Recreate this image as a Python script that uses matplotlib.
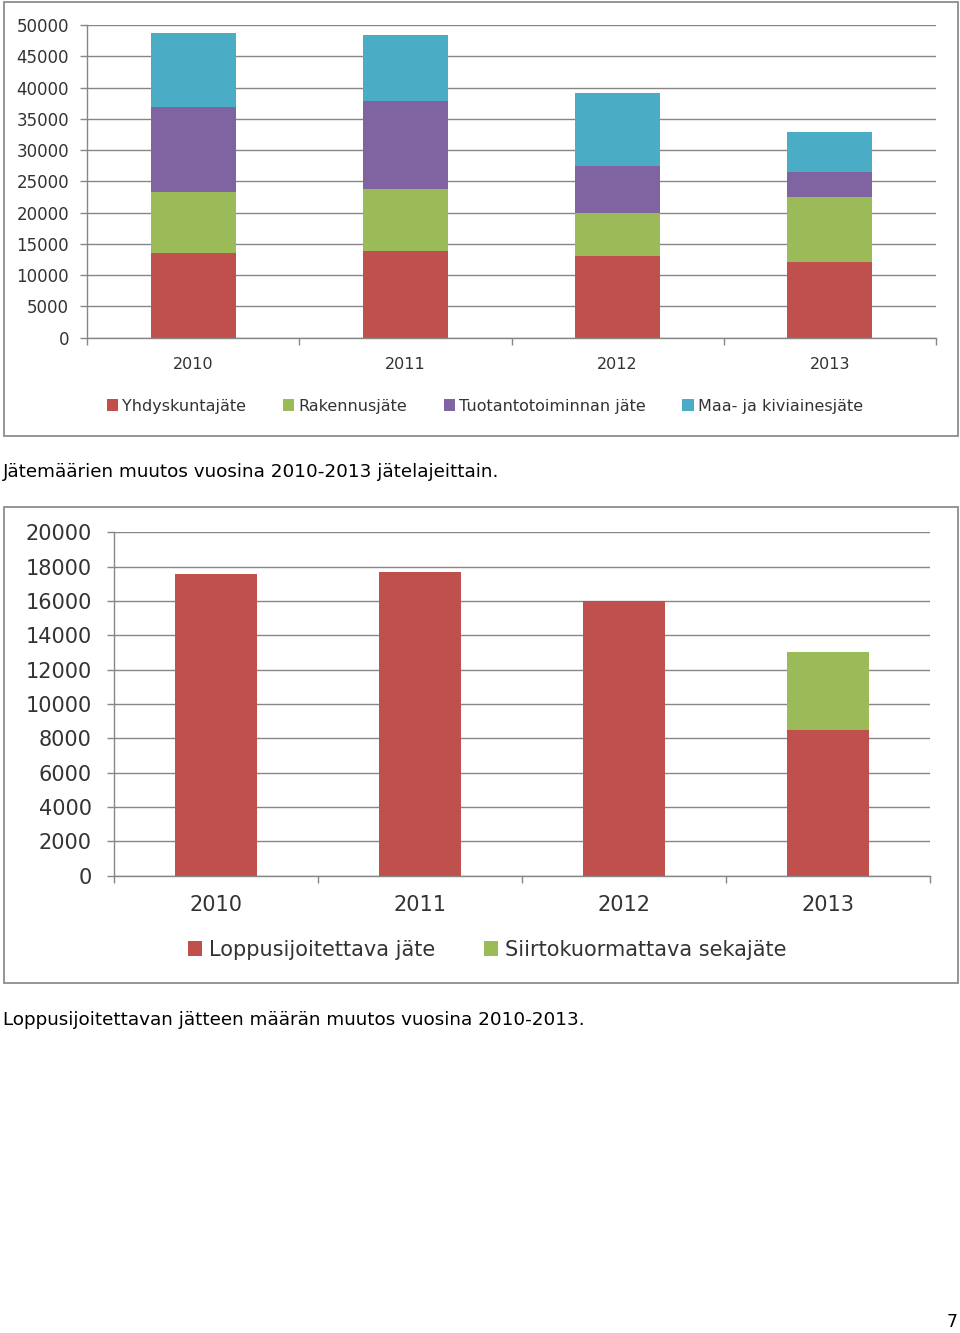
import numpy as np
import matplotlib.pyplot as plt
from matplotlib.patches import Rectangle

years = ["2010", "2011", "2012", "2013"]

# jätemäärät jätelajeittain
yhdyskuntajate = [13500, 13900, 13100, 12100]
rakennusjate = [9800, 9900, 6800, 10400]
tuotantojate = [13600, 14000, 7600, 4000]
maa_kivijate = [11900, 10600, 11700, 6400]
names_top = ["Yhdyskuntajäte", "Rakennusjäte", "Tuotantotoiminnan jäte", "Maa- ja kiviainesjäte"]

# loppusijoitettava jäte
loppusijoitus = [17550, 17700, 16000, 8500]
siirtokuormaus = [0, 0, 0, 4550]
names_bottom = ["Loppusijoitettava jäte", "Siirtokuormattava sekajäte"]

ticks_top = list(range(0, 50001, 5000))
ticks_bottom = list(range(0, 20001, 2000))

caption_top = "Jätemäärien muutos vuosina 2010-2013 jätelajeittain."
caption_bottom = "Loppusijoitettavan jätteen määrän muutos vuosina 2010-2013."

colors = ["#C0504D", "#9BBB59", "#8064A2", "#4BACC6"]
grid_c = "#868686"

W, H = 960, 1333
fig = plt.figure(figsize=(W / 100, H / 100), dpi=100)
plt.rcParams["font.family"] = ["DejaVu Sans"]


def px_box(x0, y0, x1, y1):
    # pixel box (top-left origin) -> figure fraction [l, b, w, h]
    return [x0 / W, 1 - y1 / H, (x1 - x0) / W, (y1 - y0) / H]


def style_axes(ax, ticks, fs, ypad):
    ax.set_xlim(-0.5, 3.5)
    ax.set_ylim(0, ticks[-1])
    ax.set_yticks(ticks)
    ax.set_yticklabels([str(t) for t in ticks])
    ax.yaxis.grid(True, color=grid_c, lw=1.0)
    ax.set_axisbelow(True)
    for s in ["top", "right"]:
        ax.spines[s].set_visible(False)
    for s in ["left", "bottom"]:
        ax.spines[s].set_color(grid_c)
        ax.spines[s].set_linewidth(1.0)
    ax.set_xticks(range(len(years)))
    ax.set_xticklabels(years)
    ax.set_xticks(np.arange(-0.5, len(years), 1), minor=True)
    ax.tick_params(axis="x", which="major", length=0, pad=14, labelsize=fs, colors="#333333")
    ax.tick_params(axis="x", which="minor", length=5, color=grid_c, width=1.0)
    ax.tick_params(axis="y", length=5, color=grid_c, width=1.0, pad=ypad,
                   labelsize=fs, labelcolor="#333333")
    ax.set_facecolor("white")


# chart frames
for y0, y1 in [(2, 436), (507, 983)]:
    fig.patches.append(Rectangle((4 / W, 1 - y1 / H), 954 / W, (y1 - y0) / H,
                                 transform=fig.transFigure, fill=False,
                                 edgecolor="#8c8c8c", lw=1.3))

# top chart
ax1 = fig.add_axes(px_box(87, 25, 936, 337.7))
x = np.arange(len(years))
bottom = np.zeros(len(years))
for vals, c, n in zip([yhdyskuntajate, rakennusjate, tuotantojate, maa_kivijate], colors, names_top):
    ax1.bar(x, vals, 0.4, bottom=bottom, color=c, label=n)
    bottom += np.array(vals)
style_axes(ax1, ticks_top, 12, 8)
ax1.tick_params(axis="x", labelsize=11.5)
h, l = ax1.get_legend_handles_labels()
fig.legend(h, l, loc="center", bbox_to_anchor=(485 / W, 1 - 406 / H), ncol=4,
           frameon=False, fontsize=11.5, handlelength=0.7, handleheight=0.7,
           handletextpad=0.25, columnspacing=2.3, labelcolor="#333333")

# bottom chart
ax2 = fig.add_axes(px_box(114, 532.3, 930, 875.7))
ax2.bar(x, loppusijoitus, 0.4, color=colors[0], label=names_bottom[0])
ax2.bar(x, siirtokuormaus, 0.4, bottom=loppusijoitus, color=colors[1], label=names_bottom[1])
style_axes(ax2, ticks_bottom, 15, 11)
h, l = ax2.get_legend_handles_labels()
fig.legend(h, l, loc="center", bbox_to_anchor=(487 / W, 1 - 950 / H), ncol=2,
           frameon=False, fontsize=15, handlelength=0.7, handleheight=0.7,
           handletextpad=0.3, columnspacing=2.35, labelcolor="#333333")

# captions
fig.text(3 / W, 1 - 472 / H, caption_top, fontsize=13.2, va="center", ha="left")
fig.text(3 / W, 1 - 1020 / H, caption_bottom, fontsize=13.2, va="center", ha="left")
fig.text(952 / W, 1 - 1322 / H, "7", fontsize=12.5, va="center", ha="center")

fig.savefig("out.png", dpi=100, facecolor="white")
